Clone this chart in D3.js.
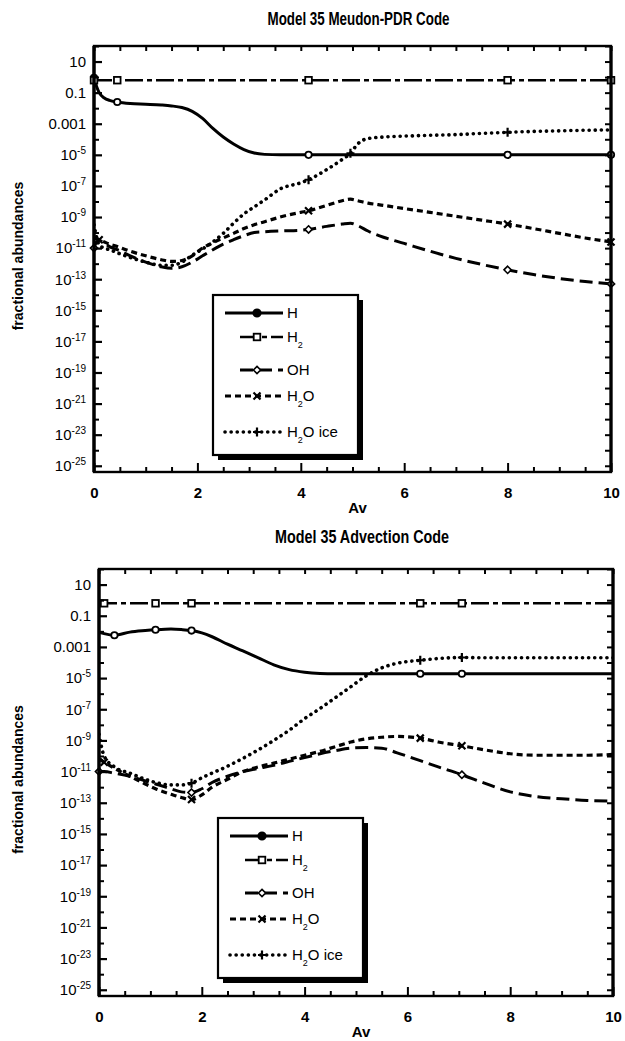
<!DOCTYPE html>
<html><head><meta charset="utf-8">
<script src="https://cdn.jsdelivr.net/npm/d3@7"></script>
<style>
body{margin:0;background:#fff;}
svg{display:block;}
text{font-family:"Liberation Sans",Arial,sans-serif;fill:#000;}
</style></head><body>
<svg id="c" width="625" height="1041"></svg>
<script>
// ---------------- data ----------------
const titles = ["Model 35 Meudon-PDR Code", "Model 35 Advection Code"];
const xTickValues = [0, 2, 4, 6, 8, 10];
const xMinorTicks = [0.5,1,1.5,2.5,3,3.5,4.5,5,5.5,6.5,7,7.5,8.5,9,9.5];
const yTickExponents = [1,-1,-3,-5,-7,-9,-11,-13,-15,-17,-19,-21,-23,-25];
const yMinorExponents = [2,0,-2,-4,-6,-8,-10,-12,-14,-16,-18,-20,-22,-24];
const seriesNames = ["H","H2","OH","H2O","H2O ice"];
const xAxisTitle = "Av";
const yAxisTitle = "fractional abundances";

// Top panel: Meudon-PDR code
const meudonAv = [0,0.05,0.1,0.2,0.3,0.45,0.7,1.0,1.3,1.5,1.7,1.9,2.1,2.3,2.5,2.7,2.9,3.1,3.3,3.6,4.0,4.15,4.5,4.8,4.96,5.1,5.3,5.6,6.0,6.5,7.0,7.5,8.0,8.5,9.0,9.5,10];
const meudonH = [0.89,0.25,0.1,0.045,0.032,0.025,0.02,0.018,0.016,0.014,0.011,6.3e-3,2.2e-3,5.0e-4,1.4e-4,5.0e-5,2.2e-5,1.3e-5,1.07e-5,1e-5,1e-5,1e-5,1e-5,1e-5,1e-5,1e-5,1e-5,1e-5,1e-5,1e-5,1e-5,1e-5,1e-5,1e-5,1e-5,1e-5,1e-5];
const meudonH2 = [0.63,0.63,0.63,0.63,0.63,0.63,0.63,0.63,0.63,0.63,0.63,0.63,0.63,0.63,0.63,0.63,0.63,0.63,0.63,0.63,0.63,0.63,0.63,0.63,0.63,0.63,0.63,0.63,0.63,0.63,0.63,0.63,0.63,0.63,0.63,0.63,0.63];
const meudonOH = [1e-11,2.5e-11,3.2e-11,2.0e-11,1.26e-11,7.9e-12,3.2e-12,1.26e-12,6.3e-13,5.0e-13,6.3e-13,1.26e-12,3.2e-12,7.9e-12,1.8e-11,3.5e-11,6.3e-11,1.0e-10,1.12e-10,1.26e-10,1.4e-10,1.6e-10,2.5e-10,3.5e-10,4.0e-10,2.8e-10,1.26e-10,5.0e-11,2.0e-11,6.3e-12,2.2e-12,8.9e-13,4.0e-13,2.0e-13,1.12e-13,7.1e-14,5.0e-14];
const meudonH2O = [5.0e-11,4.0e-11,3.5e-11,2.5e-11,1.8e-11,1.26e-11,6.3e-12,3.2e-12,1.8e-12,1.4e-12,1.6e-12,3.2e-12,1.0e-11,2.2e-11,4.5e-11,8.9e-11,1.8e-10,3.2e-10,5.0e-10,1.0e-9,2.0e-9,2.5e-9,5.6e-9,1.12e-8,1.4e-8,1.12e-8,7.9e-9,5.6e-9,3.5e-9,2.0e-9,1.12e-9,6.3e-10,3.5e-10,1.8e-10,8.9e-11,4.5e-11,2.5e-11];
const meudonIce = [3.2e-10,5.0e-11,1.6e-11,1.0e-11,7.9e-12,5.0e-12,2.5e-12,1.26e-12,7.9e-13,7.9e-13,1.26e-12,3.5e-12,8.9e-12,2.5e-11,8.9e-11,4.0e-10,1.6e-9,4.5e-9,1.26e-8,6.3e-8,1.6e-7,2.5e-7,1.12e-6,5.0e-6,1.26e-5,5.0e-5,1.12e-4,1.4e-4,1.6e-4,1.8e-4,2.0e-4,2.4e-4,2.8e-4,3.2e-4,3.5e-4,3.8e-4,4.0e-4];
const meudonMarkers = [[0,0.45,4.15,8,10],[0,0.45,4.15,8,10],[0,4.15,8,10],[0.1,4.15,8,10],[4.15,4.96,8]];

// Bottom panel: Advection code
const advAv = [0,0.1,0.3,0.6,0.9,1.1,1.4,1.6,1.8,2.0,2.2,2.5,2.8,3.1,3.4,3.7,4.0,4.3,4.6,4.9,5.2,5.5,5.8,6.25,6.6,7.06,7.5,8.0,8.5,9.0,9.5,10];
const advH = [8.9e-3,7.1e-3,5.6e-3,8.9e-3,1.12e-2,1.26e-2,1.4e-2,1.3e-2,1.12e-2,7.9e-3,4.5e-3,1.5e-3,5.6e-4,2.0e-4,7.1e-5,3.5e-5,2.4e-5,2.0e-5,1.9e-5,1.9e-5,1.9e-5,1.9e-5,1.9e-5,1.9e-5,1.9e-5,1.9e-5,1.9e-5,1.9e-5,1.9e-5,1.9e-5,1.9e-5,1.9e-5];
const advH2 = [0.63,0.63,0.63,0.63,0.63,0.63,0.63,0.63,0.63,0.63,0.63,0.63,0.63,0.63,0.63,0.63,0.63,0.63,0.63,0.63,0.63,0.63,0.63,0.63,0.63,0.63,0.63,0.63,0.63,0.63,0.63,0.63];
const advOH = [1.0e-11,1.0e-11,7.9e-12,5.0e-12,2.5e-12,1.6e-12,7.9e-13,5.0e-13,4.5e-13,7.9e-13,2.0e-12,5.0e-12,1.0e-11,1.6e-11,2.5e-11,4.5e-11,7.9e-11,1.4e-10,2.2e-10,3.2e-10,3.5e-10,3.2e-10,1.6e-10,5.0e-11,2.0e-11,6.3e-12,1.8e-12,5.0e-13,2.5e-13,1.8e-13,1.4e-13,1.26e-13];
const advH2O = [6.3e-11,4.0e-11,1.6e-11,5.0e-12,1.6e-12,7.9e-13,3.5e-13,2.2e-13,1.6e-13,3.2e-13,1.0e-12,3.2e-12,1.0e-11,2.0e-11,3.5e-11,6.3e-11,1.12e-10,2.0e-10,4.0e-10,7.9e-10,1.26e-9,1.6e-9,1.8e-9,1.4e-9,7.9e-10,4.5e-10,2.5e-10,1.4e-10,1.12e-10,1.12e-10,1.12e-10,1.26e-10];
const advIce = [2.5e-9,1.0e-10,2.0e-11,7.9e-12,3.2e-12,2.0e-12,1.4e-12,1.4e-12,1.8e-12,4.0e-12,7.9e-12,2.2e-11,7.1e-11,2.5e-10,1.0e-9,4.5e-9,2.5e-8,1.12e-7,5.6e-7,2.8e-6,1.4e-5,4.5e-5,8.9e-5,1.4e-4,1.8e-4,2.1e-4,2.0e-4,2.0e-4,2.0e-4,2.0e-4,2.0e-4,2.0e-4];
const advMarkers = [[0.3,1.1,1.8,6.25,7.06],[0.1,1.1,1.8,6.25,7.06],[0,1.8,7.06],[0.1,1.8,6.25,7.06],[1.8,6.25,7.06]];

// ---------------- layout / style ----------------
const panels = [
  {title:titles[0], titleY:25, left:94, right:611, top:46, bottom:472, avY:41,
   legend:{x:213,y:295}, av:meudonAv, values:[meudonH,meudonH2,meudonOH,meudonH2O,meudonIce], markers:meudonMarkers},
  {title:titles[1], titleY:543, left:99, right:613, top:569, bottom:996, avY:41,
   legend:{x:218,y:818}, av:advAv, values:[advH,advH2,advOH,advH2O,advIce], markers:advMarkers}
];
const styles = [
  {dash:null, width:3, marker:"circle"},
  {dash:"18,4,5,4", width:2.6, marker:"square"},
  {dash:"13,6", width:3, marker:"diamond"},
  {dash:"6,4", width:3.2, marker:"x"},
  {dash:"0.1,6", width:3.6, marker:"plus", cap:"round"}
];

const svg = d3.select("#c");

function drawMarker(g, type, cx, cy, legend){
  if(type==="circle"){
    g.append("circle").attr("cx",cx).attr("cy",cy).attr("r",legend?3.7:3.2)
      .attr("fill",legend?"#000":"#fff").attr("stroke","#000").attr("stroke-width",1.8);
  } else if(type==="square"){
    g.append("rect").attr("x",cx-3.3).attr("y",cy-3.3).attr("width",6.6).attr("height",6.6)
      .attr("fill","#fff").attr("stroke","#000").attr("stroke-width",1.8);
  } else if(type==="diamond"){
    g.append("path").attr("d",`M${cx},${cy-3.6}L${cx+3.6},${cy}L${cx},${cy+3.6}L${cx-3.6},${cy}Z`)
      .attr("fill","#fff").attr("stroke","#000").attr("stroke-width",1.6);
  } else if(type==="x"){
    g.append("path").attr("d",`M${cx-3.5},${cy-3.5}L${cx+3.5},${cy+3.5}M${cx-3.5},${cy+3.5}L${cx+3.5},${cy-3.5}`)
      .attr("stroke","#000").attr("stroke-width",2.2).attr("fill","none");
  } else if(type==="plus"){
    g.append("path").attr("d",`M${cx-4},${cy}L${cx+4},${cy}M${cx},${cy-4.5}L${cx},${cy+4.5}`)
      .attr("stroke","#000").attr("stroke-width",2.2).attr("fill","none");
  }
}

function labelWithSub(textSel, name){
  const i = name.indexOf("2");
  if(i<0){ textSel.text(name); return; }
  textSel.append("tspan").text(name.slice(0,i));
  textSel.append("tspan").text("2").attr("font-size",9).attr("dy",6);
  const rest = name.slice(i+1);
  if(rest) textSel.append("tspan").text(rest).attr("dy",-6);
}

panels.forEach((p, pi) => {
  const g = svg.append("g");
  const x = d3.scaleLinear().domain([0,10]).range([p.left, p.right]);
  const y = d3.scaleLog().domain([Math.pow(10,-25.4), 100]).range([p.bottom, p.top]);

  // title
  g.append("text").attr("x",(p.left+p.right)/2+6).attr("y",p.titleY).attr("text-anchor","middle")
    .attr("font-family","'Liberation Sans Narrow','DejaVu Sans Condensed','Liberation Sans',sans-serif")
    .attr("font-weight","bold").attr("font-size",19)
    .attr("textLength",pi===0?182:174).attr("lengthAdjust","spacingAndGlyphs")
    .text(p.title);

  // clip
  const cid = "clip"+pi;
  g.append("clipPath").attr("id",cid).append("rect")
    .attr("x",p.left).attr("y",p.top).attr("width",p.right-p.left).attr("height",p.bottom-p.top);

  // series lines
  const line = d3.line().x(d=>x(d[0])).y(d=>y(d[1])).curve(d3.curveMonotoneX);
  const lg = g.append("g").attr("clip-path",`url(#${cid})`);
  p.values.forEach((vals, si) => {
    const st = styles[si];
    const pts = p.av.map((a,i)=>[a, vals[i]]);
    lg.append("path").attr("d", line(pts)).attr("fill","none").attr("stroke","#000")
      .attr("stroke-width",st.width).attr("stroke-dasharray",st.dash)
      .attr("stroke-linecap",st.cap||"butt").attr("stroke-linejoin","round");
  });
  p.values.forEach((vals, si) => {
    const st = styles[si];
    p.markers[si].forEach(a => {
      const i = p.av.indexOf(a);
      if(i<0) return;
      drawMarker(g, st.marker, x(a), y(vals[i]), false);
    });
  });

  // axes
  const yLab = d3.axisLeft(y).tickValues(yTickExponents.map(e=>Math.pow(10,e)))
      .tickSizeInner(-8).tickSizeOuter(0).tickPadding(8).tickFormat("");
  const ya = g.append("g").attr("transform",`translate(${p.left},0)`).call(yLab);
  ya.select(".domain").remove();
  ya.selectAll(".tick line").attr("stroke-width",2.2);
  ya.selectAll(".tick text").each(function(d, i){
    const e = yTickExponents[i];
    const t = d3.select(this).attr("font-size",15).attr("font-family","'Liberation Sans',Arial,sans-serif");
    if(e===1) t.text("10");
    else if(e===-1) t.text("0.1");
    else if(e===-3) t.text("0.001");
    else {
      t.append("tspan").text("10");
      t.append("tspan").text(String(e)).attr("font-size",10).attr("dy",-6);
    }
  });
  const yMin = d3.axisLeft(y).tickValues(yMinorExponents.map(e=>Math.pow(10,e)))
      .tickSizeInner(-5).tickSizeOuter(0).tickFormat("");
  const ym = g.append("g").attr("transform",`translate(${p.left},0)`).call(yMin);
  ym.select(".domain").remove(); ym.selectAll(".tick line").attr("stroke-width",2);

  const yR = d3.axisRight(y).tickValues(yTickExponents.concat(yMinorExponents).map(e=>Math.pow(10,e)))
      .tickSizeInner(-6).tickSizeOuter(0).tickFormat("");
  const yr = g.append("g").attr("transform",`translate(${p.right},0)`).call(yR);
  yr.select(".domain").remove(); yr.selectAll(".tick line").attr("stroke-width",2);

  const xLab = d3.axisBottom(x).tickValues(xTickValues).tickSizeInner(-9).tickSizeOuter(0).tickPadding(15);
  const xa = g.append("g").attr("transform",`translate(0,${p.bottom})`).call(xLab);
  xa.select(".domain").remove();
  xa.selectAll(".tick line").attr("stroke-width",2);
  xa.selectAll(".tick text").attr("font-size",15).attr("font-weight","bold")
    .attr("font-family","'Liberation Sans',Arial,sans-serif");
  const xMin = d3.axisBottom(x).tickValues(xMinorTicks).tickSizeInner(-5).tickSizeOuter(0).tickFormat("");
  const xm = g.append("g").attr("transform",`translate(0,${p.bottom})`).call(xMin);
  xm.select(".domain").remove(); xm.selectAll(".tick line").attr("stroke-width",2);
  const xTop = d3.axisTop(x).tickValues(xTickValues.concat(xMinorTicks)).tickSizeInner(-5).tickSizeOuter(0).tickFormat("");
  const xt = g.append("g").attr("transform",`translate(0,${p.top})`).call(xTop);
  xt.select(".domain").remove(); xt.selectAll(".tick line").attr("stroke-width",2);

  // frame
  g.append("rect").attr("x",p.left).attr("y",p.top).attr("width",p.right-p.left).attr("height",p.bottom-p.top)
    .attr("fill","none").attr("stroke","#000").attr("stroke-width",2.4);
  g.append("line").attr("x1",p.left).attr("x2",p.left).attr("y1",p.top).attr("y2",p.bottom)
    .attr("stroke","#000").attr("stroke-width",3.4);
  g.append("line").attr("x1",p.right).attr("x2",p.right).attr("y1",p.top).attr("y2",p.bottom)
    .attr("stroke","#000").attr("stroke-width",3.2);

  // axis titles
  g.append("text").attr("x",(p.left+p.right)/2+5).attr("y",p.bottom+p.avY).attr("text-anchor","middle")
    .attr("font-weight","bold").attr("font-size",15).text(xAxisTitle);
  g.append("text").attr("transform",`translate(23,${(p.top+p.bottom)/2 - 3}) rotate(-90)`)
    .attr("text-anchor","middle").attr("font-weight","bold").attr("font-size",14).text(yAxisTitle);

  // legend
  const L = p.legend, lw = 145, lh = 160;
  g.append("rect").attr("x",L.x+5).attr("y",L.y+5).attr("width",lw).attr("height",lh).attr("fill","#000");
  g.append("rect").attr("x",L.x).attr("y",L.y).attr("width",lw).attr("height",lh)
    .attr("fill","#fff").attr("stroke","#000").attr("stroke-width",2.2);
  const rowY = [18, 42, 75, 101, 137];
  const lineStart = [12, 27, 27, 12, 12];
  seriesNames.forEach((name, si) => {
    const st = styles[si];
    const yy = L.y + rowY[si];
    g.append("line").attr("x1",L.x+lineStart[si]).attr("x2",L.x+70).attr("y1",yy).attr("y2",yy)
      .attr("stroke","#000").attr("stroke-width",st.width).attr("stroke-dasharray",st.dash)
      .attr("stroke-linecap",st.cap||"butt");
    drawMarker(g, st.marker, L.x+44, yy, true);
    const t = g.append("text").attr("x",L.x+74).attr("y",yy+5).attr("font-size",15);
    labelWithSub(t, name);
  });
});
</script>
</body></html>
